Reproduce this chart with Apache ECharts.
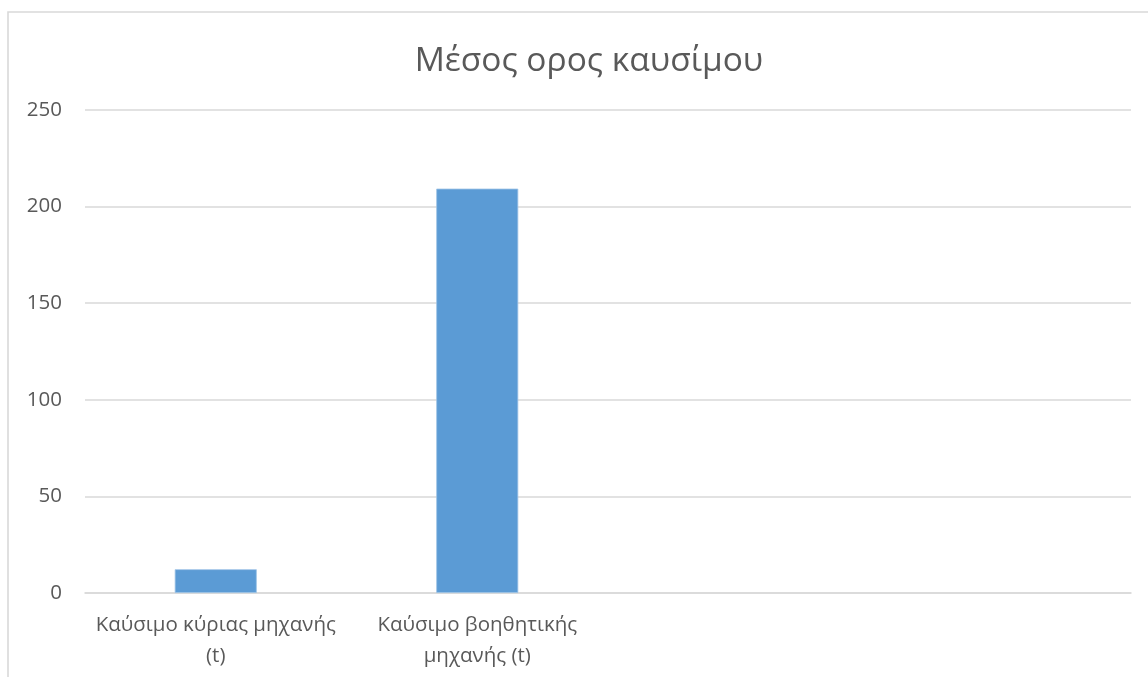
<!DOCTYPE html>
<html>
<head>
<meta charset="utf-8">
<script src="https://cdn.jsdelivr.net/npm/echarts@6/dist/echarts.min.js"></script>
<style>
  html, body { margin: 0; padding: 0; background: #ffffff; }
  #chart { width: 1148px; height: 677px; }
</style>
</head>
<body>
<div id="chart"></div>
<script>
// Average fuel consumption per engine type
const titleText = 'Μέσος ορος καυσίμου';
const categories = [
  'Καύσιμο κύριας μηχανής\n(t)',
  'Καύσιμο βοηθητικής\nμηχανής (t)',
  '',
  ''
];
const fuelValues = [12.3, 209.3, null, null];
const yTicks = { min: 0, max: 250, interval: 50 };

const textColor = '#595959';
const gridColor = '#d9d9d9';
const fontFamily = '"Open Sans", "Noto Sans", sans-serif';

const chart = echarts.init(document.getElementById('chart'), null, { renderer: 'canvas' });

chart.setOption({
  backgroundColor: '#ffffff',
  animation: false,
  title: {
    text: titleText,
    left: 584,
    top: 39,
    textAlign: 'center',
    textStyle: {
      color: textColor,
      fontFamily: fontFamily,
      fontSize: 33.5,
      fontWeight: 'normal'
    }
  },
  graphic: [{
    type: 'rect',
    silent: true,
    shape: { x: 8, y: 12, width: 1300, height: 800 },
    style: { fill: 'none', stroke: gridColor, lineWidth: 1.6 }
  }],
  grid: {
    left: 85,
    right: 17,
    top: 110,
    bottom: 84,
    containLabel: false
  },
  xAxis: {
    type: 'category',
    data: categories,
    axisLine: { show: true, lineStyle: { color: gridColor, width: 1.6 } },
    axisTick: { show: false },
    axisLabel: {
      interval: 0,
      color: textColor,
      fontFamily: fontFamily,
      fontSize: 20.5,
      lineHeight: 31,
      margin: 17
    }
  },
  yAxis: {
    type: 'value',
    min: yTicks.min,
    max: yTicks.max,
    interval: yTicks.interval,
    axisLine: { show: false },
    axisTick: { show: false },
    splitLine: { lineStyle: { color: gridColor, width: 1.6 } },
    axisLabel: {
      color: textColor,
      fontFamily: fontFamily,
      fontSize: 20.5,
      margin: 23
    }
  },
  series: [{
    type: 'bar',
    data: fuelValues,
    barWidth: 82,
    itemStyle: {
      color: '#5b9bd5',
      borderColor: '#9dc3e6',
      borderWidth: 0.8
    }
  }]
});
</script>
</body>
</html>
